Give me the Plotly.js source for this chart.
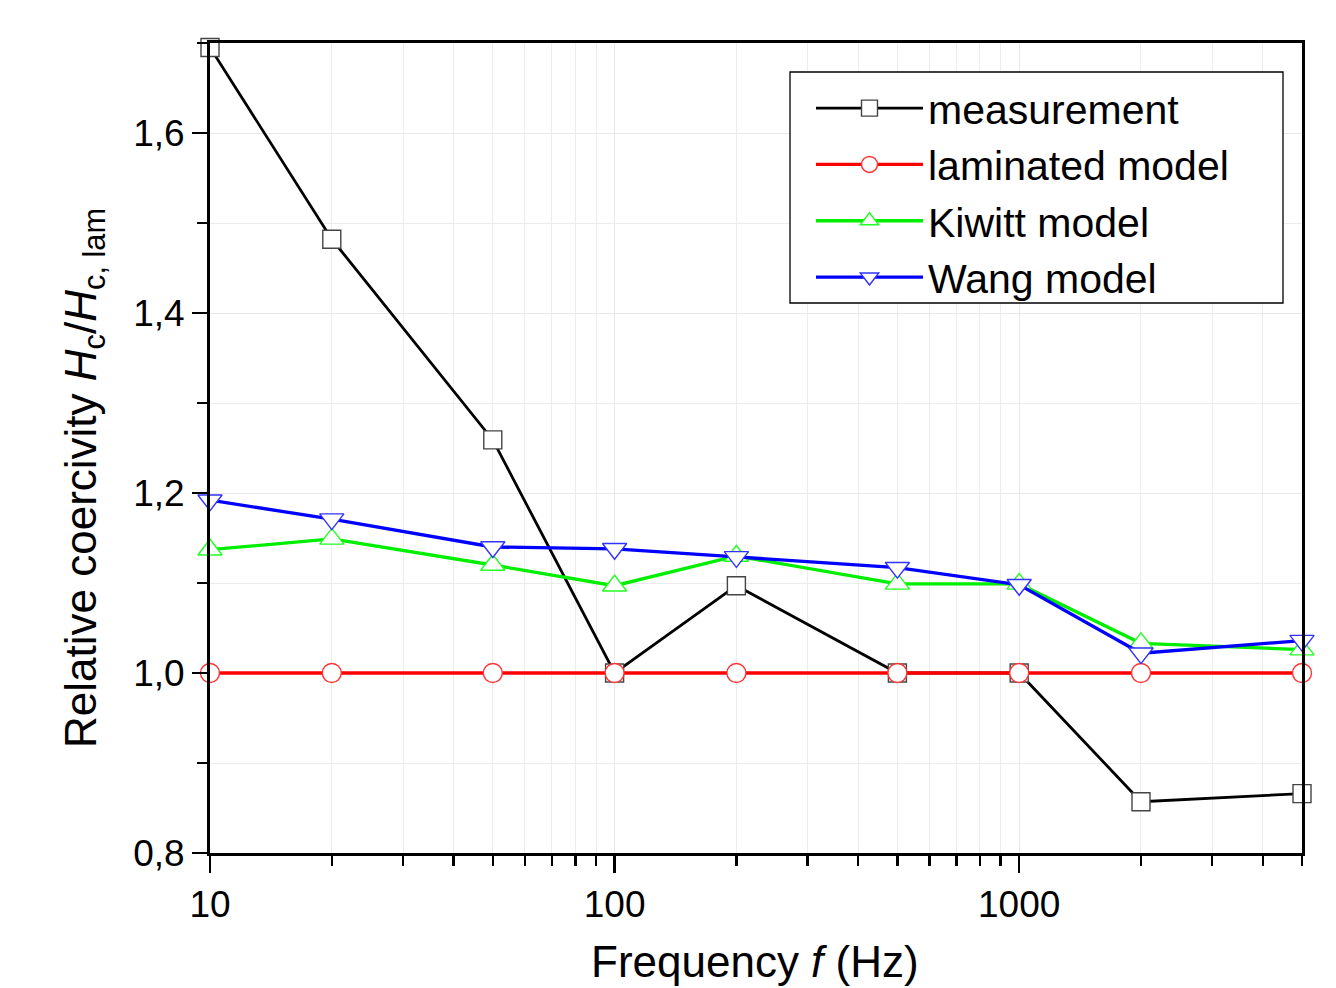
<!DOCTYPE html>
<html>
<head>
<meta charset="utf-8">
<script src="https://cdn.plot.ly/plotly-3.0.1.min.js"></script>
<style>body{margin:0;background:#fff;} #chart{width:1336px;height:988px;}</style>
</head>
<body>
<div id="chart"></div>
<script>
const freq = [10, 20, 50, 100, 200, 500, 1000, 2000, 5000];
const measurement = [1.695, 1.482, 1.259, 1.0, 1.097, 1.0, 1.0, 0.857, 0.866];
const laminated = [1, 1, 1, 1, 1, 1, 1, 1, 1];
const kiwitt = [1.137, 1.149, 1.120, 1.097, 1.130, 1.099, 1.099, 1.033, 1.026];
const wang = [1.192, 1.171, 1.140, 1.138, 1.129, 1.117, 1.098, 1.022, 1.036];
const xMajorTicks = [10, 100, 1000];
const xMinorTicks = [20,30,40,50,60,70,80,90,200,300,400,500,600,700,800,900,2000,3000,4000,5000];
const xTitle = 'Frequency <i>f</i> (Hz)';
const yTitle = 'Relative coercivity <i>H</i><sub>c</sub>/<i>H</i><sub>c, lam</sub>';

function tr(name, y, color, mcolor, symbol, size, lw) {
  return {
    x: freq, y: y, name: name, type: 'scatter', mode: 'lines+markers',
    line: {color: color, width: lw},
    marker: {symbol: symbol, size: size, color: '#ffffff', line: {color: mcolor, width: 1.4}},
    cliponaxis: false
  };
}
const data = [
  tr('measurement', measurement, '#000000', '#444444', 'square', 18, 2.8),
  tr('laminated model', laminated, '#ff0000', '#ff3333', 'circle', 19, 3.3),
  tr('Kiwitt model', kiwitt, '#00ee00', '#22ff22', 'triangle-up', 21, 3.3),
  tr('Wang model', wang, '#0000ff', '#3333ff', 'triangle-down', 21, 3.3)
];

const FONT = 'Liberation Sans, Arial, sans-serif';
const layout = {
  width: 1336, height: 988,
  margin: {l: 210, r: 34, t: 43, b: 135},
  paper_bgcolor: '#fff', plot_bgcolor: '#fff',
  separators: ',.',
  font: {family: FONT, color: '#000', size: 37},
  showlegend: true,
  legend: {
    x: (811 - 210) / 1092, y: (853 - 75) / 810, xanchor: 'left', yanchor: 'top',
    borderwidth: 0, bgcolor: 'rgba(0,0,0,0)',
    font: {size: 41}, itemwidth: 107, tracegroupgap: 0
  },
  shapes: [{
    type: 'rect', xref: 'paper', yref: 'paper', layer: 'above',
    x0: (790 - 210) / 1092, x1: (1283 - 210) / 1092,
    y0: (853 - 303) / 810, y1: (853 - 72) / 810,
    line: {color: '#000', width: 1.3}, fillcolor: '#ffffff'
  }],
  annotations: [
    {text: xTitle, xref: 'paper', yref: 'paper', x: (755 - 210) / 1092, y: (853 - 961) / 810,
     xanchor: 'center', yanchor: 'middle', showarrow: false, font: {size: 44}},
    {text: yTitle, xref: 'paper', yref: 'paper', x: (84 - 210) / 1092, y: (853 - 478) / 810,
     xanchor: 'center', yanchor: 'middle', textangle: -90, showarrow: false, font: {size: 44}}
  ],
  xaxis: {
    type: 'log', range: [1, Math.log10(5000)],
    tickmode: 'array', tickvals: xMajorTicks, ticktext: xMajorTicks.map(String),
    ticks: 'outside', ticklen: 17, tickwidth: 2.5, tickcolor: '#000',
    showline: true, linewidth: 3, linecolor: '#000', mirror: true,
    showgrid: true, gridcolor: '#e8e8e8', gridwidth: 1,
    zeroline: false,
    tickfont: {size: 37},
    minor: {tickmode: 'array', tickvals: xMinorTicks, ticks: 'outside', ticklen: 10, tickwidth: 2.5, tickcolor: '#000', showgrid: true, gridcolor: '#ececec', gridwidth: 1}
  },
  yaxis: {
    range: [0.8, 1.7], tick0: 0.8, dtick: 0.2, tickformat: '.1f',
    ticks: 'outside', ticklen: 15, tickwidth: 2.5, tickcolor: '#000',
    showline: true, linewidth: 3, linecolor: '#000', mirror: true,
    showgrid: true, gridcolor: '#e8e8e8', gridwidth: 1,
    zeroline: false,
    tickfont: {size: 37},
    minor: {dtick: 0.1, ticks: 'outside', ticklen: 10, tickwidth: 2.5, tickcolor: '#000', showgrid: true, gridcolor: '#ececec', gridwidth: 1}
  }
};
Plotly.newPlot('chart', data, layout, {displayModeBar: false, staticPlot: true});
</script>
</body>
</html>
